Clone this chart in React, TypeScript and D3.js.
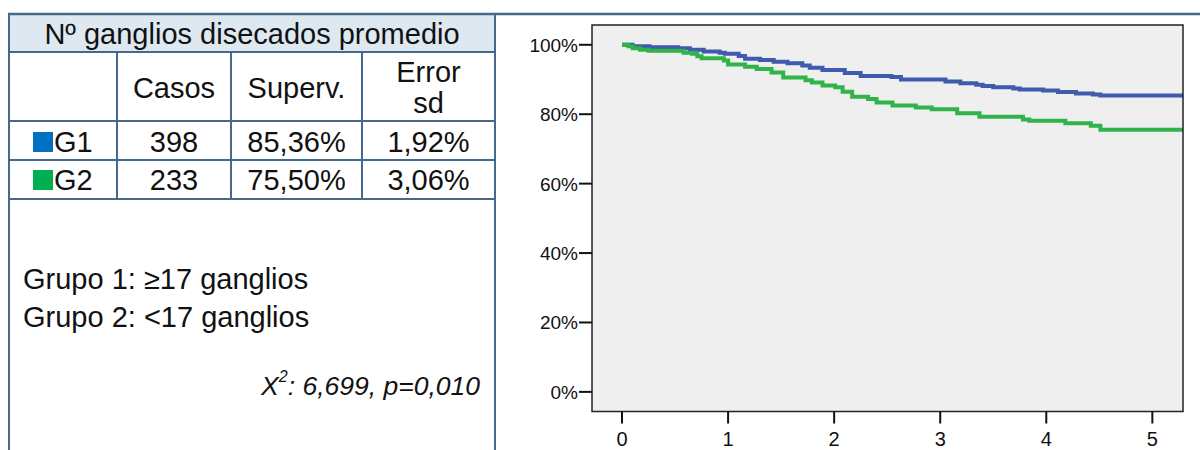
import React from "react";
import * as d3 from "d3";

// Table content
const titleText = "Nº ganglios disecados promedio";
const headerCols = ["Casos", "Superv.", ["Error", "sd"]];
const groupNames = ["G1", "G2"];
const groupColors = ["#0070c0", "#00b050"];
const cases = ["398", "233"];
const survival = ["85,36%", "75,50%"];
const errorSd = ["1,92%", "3,06%"];
const groupDefs = ["Grupo 1: ≥17 ganglios", "Grupo 2: <17 ganglios"];
const chiSq = "6,699";
const pValue = "0,010";

// Kaplan-Meier step data: [years, survival %]
const g1Times = [0, 0.1, 0.26, 0.53, 0.64, 0.77, 0.92, 0.97, 1.1, 1.16, 1.3, 1.43, 1.56, 1.7, 1.77, 1.89, 2.1, 2.25, 2.54, 2.63, 3.05, 3.19, 3.34, 3.4, 3.5, 3.69, 3.75, 3.97, 4.11, 4.28, 4.44, 4.51];
const g1Surv = [100, 99.6, 99.3, 99.0, 98.6, 98.1, 97.7, 97.4, 96.8, 96.0, 95.6, 95.1, 94.7, 94.0, 93.4, 92.7, 91.9, 91.0, 90.7, 90.0, 89.4, 88.9, 88.5, 88.1, 87.8, 87.4, 87.1, 86.8, 86.4, 86.0, 85.7, 85.36];
const g2Times = [0, 0.06, 0.1, 0.17, 0.25, 0.58, 0.66, 0.71, 0.75, 0.96, 1.0, 1.16, 1.27, 1.41, 1.52, 1.73, 1.79, 1.89, 2.01, 2.08, 2.17, 2.32, 2.4, 2.55, 2.77, 2.92, 3.16, 3.37, 3.78, 3.84, 4.18, 4.42, 4.51];
const g2Surv = [100, 99.6, 99.0, 98.6, 98.3, 97.7, 97.4, 96.7, 96.1, 95.5, 94.3, 93.7, 93.0, 92.0, 90.6, 89.8, 89.1, 88.3, 87.8, 86.5, 85.0, 84.4, 83.4, 82.5, 81.9, 81.4, 80.3, 79.3, 78.5, 78.1, 77.4, 76.7, 75.5];
const lineColors = ["#3e5bae", "#30b44a"];

const xTicks = [0, 1, 2, 3, 4, 5];
const yTicks = [0, 20, 40, 60, 80, 100];

const FONT = "'Liberation Sans', Arial, sans-serif";
const BORDER = "#44698c";

export default function App() {
  const W = 1200;
  const H = 450;
  // plot frame
  const pl = 592, pr = 1183, pt = 25, pb = 411.5;
  const x = d3.scaleLinear().domain([-0.283, 5.289]).range([pl, pr]);
  const y = d3.scaleLinear().domain([-5.65, 105.7]).range([pb, pt]);
  const tEnd = 5.3;

  const line = d3
    .line<[number, number]>()
    .x((d) => x(d[0]))
    .y((d) => y(d[1]))
    .curve(d3.curveStepAfter);

  const series = [
    { t: g1Times, s: g1Surv },
    { t: g2Times, s: g2Surv },
  ].map((g) => {
    const pts: [number, number][] = g.t.map((t, i) => [t, g.s[i]]);
    pts.push([tEnd, g.s[g.s.length - 1]]);
    return pts;
  });

  // table geometry
  const tl = 9, tr = 495;
  const colX = [tl, 117, 231, 362, tr];
  const rowY = [14, 52, 121, 160, 199];
  const colC = (i: number) => (colX[i] + colX[i + 1]) / 2;
  const fs = 29;

  return (
    <svg width={W} height={H} style={{ position: "absolute", left: 0, top: 0, display: "block" }} fontFamily={FONT}>
      <rect x={0} y={0} width={W} height={H} fill="#ffffff" />

      {/* table */}
      <rect x={tl} y={rowY[0]} width={tr - tl} height={rowY[1] - rowY[0]} fill="#dde8f1" />
      <line x1={tl - 1} x2={W} y1={rowY[0]} y2={rowY[0]} stroke={BORDER} strokeWidth={2.5} />
      {rowY.slice(1).map((ry, i) => (
        <line key={"h" + i} x1={tl} x2={tr} y1={ry} y2={ry} stroke={BORDER} strokeWidth={2} />
      ))}
      <line x1={tl} x2={tl} y1={rowY[0]} y2={H} stroke={BORDER} strokeWidth={2} />
      <line x1={tr} x2={tr} y1={rowY[0]} y2={H} stroke={BORDER} strokeWidth={2} />
      {colX.slice(1, 4).map((cx, i) => (
        <line key={"v" + i} x1={cx} x2={cx} y1={rowY[1]} y2={rowY[4]} stroke={BORDER} strokeWidth={2} />
      ))}

      <text x={(tl + tr) / 2} y={44} fontSize={fs} textAnchor="middle" fill="#111">{titleText}</text>
      <text x={colC(1)} y={98} fontSize={fs} textAnchor="middle" fill="#111">{headerCols[0] as string}</text>
      <text x={colC(2)} y={98} fontSize={fs} textAnchor="middle" fill="#111">{headerCols[1] as string}</text>
      <text x={colC(3)} y={82} fontSize={fs} textAnchor="middle" fill="#111">{(headerCols[2] as string[])[0]}</text>
      <text x={colC(3)} y={113} fontSize={fs} textAnchor="middle" fill="#111">{(headerCols[2] as string[])[1]}</text>

      {groupNames.map((g, i) => {
        const base = i === 0 ? 152 : 190;
        return (
          <g key={g}>
            <rect x={33} y={base - 20} width={20} height={20} fill={groupColors[i]} />
            <text x={54} y={base} fontSize={fs} fill="#111">{g}</text>
            <text x={colC(1)} y={base} fontSize={fs} textAnchor="middle" fill="#111">{cases[i]}</text>
            <text x={colC(2)} y={base} fontSize={fs} textAnchor="middle" fill="#111">{survival[i]}</text>
            <text x={colC(3)} y={base} fontSize={fs} textAnchor="middle" fill="#111">{errorSd[i]}</text>
          </g>
        );
      })}

      <text x={23} y={289} fontSize={fs} fill="#111">{groupDefs[0]}</text>
      <text x={23} y={327} fontSize={fs} fill="#111">{groupDefs[1]}</text>
      <text x={480} y={395} fontSize={26.5} textAnchor="end" fontStyle="italic" fill="#111">
        X<tspan fontSize={16} dy={-13}>2</tspan>
        <tspan dy={13}>{`: ${chiSq}, p=${pValue}`}</tspan>
      </text>

      {/* survival plot */}
      <defs>
        <clipPath id="plotClip">
          <rect x={pl} y={pt} width={pr - pl} height={pb - pt} />
        </clipPath>
      </defs>
      <rect x={pl} y={pt} width={pr - pl} height={pb - pt} fill="#efefef" />
      <g clipPath="url(#plotClip)">
        {series.map((pts, i) => (
          <path key={i} d={line(pts) || ""} fill="none" stroke={lineColors[i]} strokeWidth={4} strokeLinejoin="miter" />
        ))}
      </g>
      <rect x={pl} y={pt} width={pr - pl} height={pb - pt} fill="none" stroke="#222" strokeWidth={1.5} />

      {yTicks.map((v) => (
        <g key={"y" + v}>
          <line x1={pl - 13} x2={pl} y1={y(v)} y2={y(v)} stroke="#111" strokeWidth={2} />
          <text x={pl - 14} y={y(v) + 7} fontSize={19} textAnchor="end" fill="#111">{`${v}%`}</text>
        </g>
      ))}
      {xTicks.map((t) => (
        <g key={"x" + t}>
          <line x1={x(t)} x2={x(t)} y1={pb} y2={pb + 12} stroke="#111" strokeWidth={2} />
          <text x={x(t)} y={446} fontSize={20} textAnchor="middle" fill="#111">{t}</text>
        </g>
      ))}
    </svg>
  );
}
